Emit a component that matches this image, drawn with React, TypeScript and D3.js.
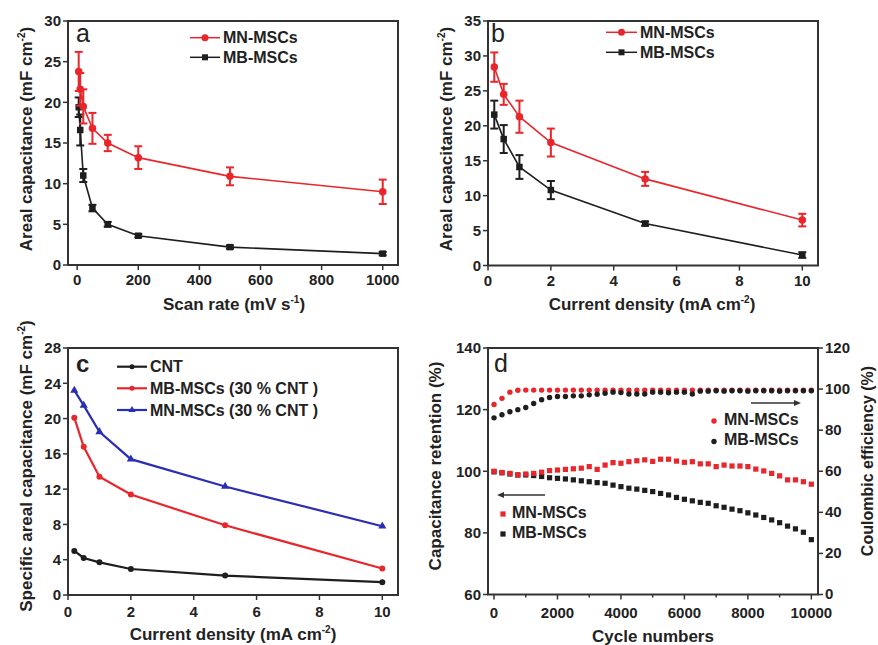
import React from 'react';
import * as d3 from 'd3';

const FONT = "'Liberation Sans', Arial, Helvetica, sans-serif";
const INK = '#222';
const AXIS = '#333';
const RED = '#e8262b';
const BLUE = '#2a2eb2';
const DARK = '#1e1e1e';

// ---- (a) areal capacitance vs scan rate ----
const scanRates = [5, 10, 20, 50, 100, 200, 500, 1000];
const mnScan = [23.8, 21.6, 19.5, 16.8, 15.0, 13.2, 10.9, 9.0];
const mnScanErr = [2.4, 2.0, 2.1, 1.9, 1.0, 1.4, 1.1, 1.5];
const mbScan = [19.4, 16.6, 11.0, 7.0, 5.0, 3.6, 2.2, 1.4];
const mbScanErr = [1.2, 1.9, 0.8, 0.4, 0.3, 0.2, 0.2, 0.2];
const scanTicksX = [0, 200, 400, 600, 800, 1000];
const scanTicksY = [0, 5, 10, 15, 20, 25, 30];

// ---- (b) areal capacitance vs current density ----
const currents = [0.2, 0.5, 1, 2, 5, 10];
const mnCur = [28.4, 24.5, 21.3, 17.6, 12.4, 6.5];
const mnCurErr = [2.1, 1.5, 2.3, 2.0, 1.0, 0.9];
const mbCur = [21.6, 18.1, 14.1, 10.8, 6.0, 1.5];
const mbCurErr = [2.0, 2.0, 1.7, 1.3, 0.3, 0.4];
const curTicksX = [0, 2, 4, 6, 8, 10];
const curTicksYb = [0, 5, 10, 15, 20, 25, 30, 35];

// ---- (c) specific areal capacitance with 30 % CNT ----
const cntOnly = [5.0, 4.2, 3.7, 2.95, 2.2, 1.45];
const mb30 = [20.1, 16.8, 13.4, 11.4, 7.9, 3.0];
const mn30 = [23.2, 21.5, 18.5, 15.4, 12.3, 7.8];
const curTicksYc = [0, 4, 8, 12, 16, 20, 24, 28];

// ---- (d) cycling stability ----
const cycles = [
  0, 250, 500, 750, 1000, 1250, 1500, 1750, 2000, 2250, 2500, 2750, 3000, 3250,
  3500, 3750, 4000, 4250, 4500, 4750, 5000, 5250, 5500, 5750, 6000, 6250, 6500,
  6750, 7000, 7250, 7500, 7750, 8000, 8250, 8500, 8750, 9000, 9250, 9500, 9750, 10000,
];
const mnRetention = [
  100, 99.6, 99.3, 98.8, 99.1, 99.3, 99.7, 100.2, 100.4, 100.6, 100.8, 101.0, 101.5, 100.6,
  102.0, 102.8, 102.6, 103.1, 103.4, 103.7, 103.2, 103.9, 103.9, 103.3, 102.9, 103.1, 102.4,
  102.4, 101.5, 102.0, 101.7, 101.7, 101.5, 100.7, 100.1, 99.3, 98.5, 97.2, 97.2, 96.6, 95.8,
];
const mbRetention = [
  99.8, 99.5, 99.1, 98.8, 98.8, 98.6, 98.3, 97.9, 97.7, 97.5, 97.2, 96.9, 96.6, 96.3,
  96.1, 95.5, 95.0, 94.5, 94.2, 93.8, 93.4, 92.8, 92.3, 91.5, 90.9, 90.4, 89.9,
  89.6, 88.8, 88.3, 87.7, 87.2, 86.5, 85.8, 85.0, 84.2, 83.3, 82.2, 81.3, 80.2, 77.8,
];
const mnCoulombic = [
  92.5, 95.5, 98.5, 99.4, 99.5, 99.5, 99.5, 99.5, 99.5, 99.5, 99.5, 99.5, 99.5, 99.5,
  99.5, 99.5, 99.5, 99.5, 99.5, 99.5, 99.5, 99.5, 99.5, 99.5, 99.5, 99.5, 99.5,
  99.5, 99.5, 99.5, 99.5, 99.5, 99.5, 99.5, 99.5, 99.5, 99.5, 99.5, 99.5, 99.5, 99.5,
];
const mbCoulombic = [
  86.0, 87.5, 89.0, 90.0, 91.0, 93.0, 94.8, 95.9, 96.4, 96.4, 96.7, 96.7, 97.2, 97.5,
  98.0, 98.5, 98.3, 97.6, 97.6, 97.6, 98.5, 98.5, 98.2, 98.5, 98.5, 97.6, 99.0,
  99.0, 99.2, 99.0, 99.2, 99.2, 99.0, 99.2, 99.2, 99.2, 99.0, 99.2, 99.2, 99.2, 99.2,
];
const cycleTicks = [0, 2000, 4000, 6000, 8000, 10000];
const cycleMinor = [1000, 3000, 5000, 7000, 9000];
const retentionTicks = [60, 80, 100, 120, 140];
const coulombicTicks = [0, 20, 40, 60, 80, 100, 120];

type Lin = d3.ScaleLinear<number, number>;

function Frame({ x, y, xTicks, yTicks, xMinor = [] as number[], labelGap = 20 }: any) {
  const [l, r] = x.range();
  const [b, t] = y.range();
  return (
    <g>
      <rect x={l} y={t} width={r - l} height={b - t} fill="none" stroke={AXIS} strokeWidth={2} />
      {xTicks.map((v: number) => (
        <g key={'x' + v}>
          <line x1={x(v)} x2={x(v)} y1={b} y2={b + 5} stroke={AXIS} strokeWidth={1.5} />
          <text x={x(v)} y={b + labelGap} textAnchor="middle" fontSize={15} fontWeight="bold" fill={INK}>
            {v}
          </text>
        </g>
      ))}
      {xMinor.map((v: number) => (
        <line key={'m' + v} x1={x(v)} x2={x(v)} y1={b} y2={b + 3} stroke={AXIS} strokeWidth={1.5} />
      ))}
      {yTicks.map((v: number) => (
        <g key={'y' + v}>
          <line x1={l - 5} x2={l} y1={y(v)} y2={y(v)} stroke={AXIS} strokeWidth={1.5} />
          <text x={l - 7} y={y(v)} dy="0.36em" textAnchor="end" fontSize={15} fontWeight="bold" fill={INK}>
            {v}
          </text>
        </g>
      ))}
    </g>
  );
}

function ErrorBars({ xs, vs, es, x, y, color }: any) {
  return (
    <g stroke={color} strokeWidth={2}>
      {xs.map((xv: number, i: number) => {
        const px = x(xv);
        const top = y(vs[i] + es[i]);
        const bot = y(vs[i] - es[i]);
        return (
          <g key={i}>
            <line x1={px} x2={px} y1={top} y2={bot} />
            <line x1={px - 4} x2={px + 4} y1={top} y2={top} />
            <line x1={px - 4} x2={px + 4} y1={bot} y2={bot} />
          </g>
        );
      })}
    </g>
  );
}

function Series({ xs, vs, x, y, color, marker, size, width }: any) {
  const line = d3.line<number>().x((_, i) => x(xs[i])).y((v) => y(v));
  return (
    <g>
      <path d={line(vs) || ''} fill="none" stroke={color} strokeWidth={width} />
      {xs.map((xv: number, i: number) => (
        <Marker key={i} cx={x(xv)} cy={y(vs[i])} kind={marker} size={size} color={color} />
      ))}
    </g>
  );
}

function Marker({ cx, cy, kind, size, color }: any) {
  if (kind === 'square')
    return <rect x={cx - size / 2} y={cy - size / 2} width={size} height={size} fill={color} />;
  if (kind === 'triangle') {
    const s = d3.symbol(d3.symbolTriangle, size * size * 0.45)();
    return <path d={s || ''} transform={`translate(${cx},${cy})`} fill={color} />;
  }
  return <circle cx={cx} cy={cy} r={size / 2} fill={color} />;
}

function LegendLine({ x1, x2, y, color, marker, size, label, width = 1.5 }: any) {
  return (
    <g>
      <line x1={x1} x2={x2} y1={y} y2={y} stroke={color} strokeWidth={width} />
      <Marker cx={(x1 + x2) / 2} cy={y} kind={marker} size={size} color={color} />
      <text x={x2 + 3} y={y} dy="0.36em" fontSize={16} fontWeight="bold" fill={INK}>
        {label}
      </text>
    </g>
  );
}

function Sup({ children }: any) {
  return (
    <>
      <tspan dy={-7} fontSize={10}>{children}</tspan>
      <tspan dy={7}>)</tspan>
    </>
  );
}

function YTitle({ x, y, children, size = 17 }: any) {
  return (
    <text transform={`translate(${x},${y}) rotate(-90)`} textAnchor="middle" fontSize={size} fontWeight="bold" fill={INK}>
      {children}
    </text>
  );
}

function PanelA() {
  const x: Lin = d3.scaleLinear().domain([-30, 1050]).range([68, 398]);
  const y: Lin = d3.scaleLinear().domain([0, 30]).range([265, 21]);
  return (
    <g>
      <Frame x={x} y={y} xTicks={scanTicksX} yTicks={scanTicksY} />
      <Series xs={scanRates} vs={mbScan} x={x} y={y} color={DARK} marker="square" size={6.5} width={1.6} />
      <ErrorBars xs={scanRates} vs={mbScan} es={mbScanErr} x={x} y={y} color={DARK} />
      <Series xs={scanRates} vs={mnScan} x={x} y={y} color={RED} marker="circle" size={7.5} width={1.6} />
      <ErrorBars xs={scanRates} vs={mnScan} es={mnScanErr} x={x} y={y} color={RED} />
      <text x={76} y={42} fontSize={25} fill={INK}>a</text>
      <LegendLine x1={190} x2={220} y={37.7} color={RED} marker="circle" size={7} label="MN-MSCs" />
      <LegendLine x1={190} x2={220} y={57.3} color={DARK} marker="square" size={6} label="MB-MSCs" />
      <text x={234} y={310} textAnchor="middle" fontSize={17} fontWeight="bold" fill={INK}>
        Scan rate (mV s<tspan dy={-7} fontSize={10}>-1</tspan><tspan dy={7}>)</tspan>
      </text>
      <YTitle x={32} y={139}>Areal capacitance (mF cm<Sup>-2</Sup></YTitle>
    </g>
  );
}

function PanelB() {
  const x: Lin = d3.scaleLinear().domain([0, 10.5]).range([488, 818]);
  const y: Lin = d3.scaleLinear().domain([0, 35]).range([265.5, 21]);
  return (
    <g>
      <Frame x={x} y={y} xTicks={curTicksX} yTicks={curTicksYb} />
      <Series xs={currents} vs={mbCur} x={x} y={y} color={DARK} marker="square" size={6.5} width={1.6} />
      <ErrorBars xs={currents} vs={mbCur} es={mbCurErr} x={x} y={y} color={DARK} />
      <Series xs={currents} vs={mnCur} x={x} y={y} color={RED} marker="circle" size={7.5} width={1.6} />
      <ErrorBars xs={currents} vs={mnCur} es={mnCurErr} x={x} y={y} color={RED} />
      <text x={491} y={42} fontSize={25} fill={INK}>b</text>
      <LegendLine x1={606} x2={637} y={32.3} color={RED} marker="circle" size={7} label="MN-MSCs" />
      <LegendLine x1={606} x2={637} y={52.3} color={DARK} marker="square" size={6} label="MB-MSCs" />
      <text x={652} y={310} textAnchor="middle" fontSize={17} fontWeight="bold" fill={INK}>
        Current density (mA cm<tspan dy={-7} fontSize={10}>-2</tspan><tspan dy={7}>)</tspan>
      </text>
      <YTitle x={452} y={139}>Areal capacitance (mF cm<Sup>-2</Sup></YTitle>
    </g>
  );
}

function PanelC() {
  const x: Lin = d3.scaleLinear().domain([0, 10.5]).range([68, 398]);
  const y: Lin = d3.scaleLinear().domain([0, 28]).range([595, 348]);
  return (
    <g>
      <Frame x={x} y={y} xTicks={curTicksX} yTicks={curTicksYc} labelGap={22} />
      <Series xs={currents} vs={cntOnly} x={x} y={y} color={DARK} marker="circle" size={6} width={2.2} />
      <Series xs={currents} vs={mb30} x={x} y={y} color={RED} marker="circle" size={6} width={2.2} />
      <Series xs={currents} vs={mn30} x={x} y={y} color={BLUE} marker="triangle" size={8} width={2.2} />
      <text x={76} y={372} fontSize={24} fontWeight="bold" fill={INK}>c</text>
      <LegendLine x1={117} x2={147} y={366.7} color={DARK} marker="circle" size={5} label="CNT" width={2.2} />
      <LegendLine x1={117} x2={147} y={388.3} color={RED} marker="circle" size={5} label="MB-MSCs (30 % CNT )" width={2.2} />
      <LegendLine x1={117} x2={147} y={410} color={BLUE} marker="triangle" size={7} label="MN-MSCs (30 % CNT )" width={2.2} />
      <text x={233} y={640} textAnchor="middle" fontSize={17} fontWeight="bold" fill={INK}>
        Current density (mA cm<tspan dy={-7} fontSize={10}>-2</tspan><tspan dy={7}>)</tspan>
      </text>
      <YTitle x={32} y={466}>Specific areal capacitance (mF cm<Sup>-2</Sup></YTitle>
    </g>
  );
}

function Arrow({ x1, x2, y }: any) {
  const dir = Math.sign(x2 - x1);
  return (
    <g>
      <line x1={x1} x2={x2 - dir * 4} y1={y} y2={y} stroke={AXIS} strokeWidth={1.5} />
      <path d={`M${x2},${y} L${x2 - dir * 7},${y - 3} L${x2 - dir * 7},${y + 3} Z`} fill={AXIS} />
    </g>
  );
}

function PanelD() {
  const x: Lin = d3.scaleLinear().domain([-190, 10210]).range([488, 818]);
  const yL: Lin = d3.scaleLinear().domain([60, 140]).range([594.5, 348]);
  const yR: Lin = d3.scaleLinear().domain([0, 120]).range([594.5, 348]);
  return (
    <g>
      <Frame x={x} y={yL} xTicks={cycleTicks} yTicks={retentionTicks} xMinor={cycleMinor} labelGap={23} />
      {coulombicTicks.map((v) => (
        <g key={v}>
          <line x1={818} x2={823} y1={yR(v)} y2={yR(v)} stroke={AXIS} strokeWidth={1.5} />
          <text x={825} y={yR(v)} dy="0.33em" fontSize={15} fontWeight="bold" fill={INK}>{v}</text>
        </g>
      ))}
      {cycles.map((c, i) => (
        <g key={c}>
          <rect x={x(c) - 2.6} y={yL(mbRetention[i]) - 2.6} width={5.2} height={5.2} fill={DARK} />
          <rect x={x(c) - 2.6} y={yL(mnRetention[i]) - 2.6} width={5.2} height={5.2} fill={RED} />
          <circle cx={x(c)} cy={yR(mnCoulombic[i])} r={2.7} fill={RED} />
          <circle cx={x(c)} cy={yR(mbCoulombic[i])} r={2.7} fill={DARK} />
        </g>
      ))}
      <text x={494} y={372} fontSize={25} fill={INK}>d</text>
      <Arrow x1={751} x2={801} y={403} />
      <Arrow x1={545} x2={497} y={495} />
      <circle cx={714} cy={421} r={2.7} fill={RED} />
      <text x={724} y={425} fontSize={16} fontWeight="bold" fill={INK}>MN-MSCs</text>
      <circle cx={714} cy={441.5} r={2.7} fill={DARK} />
      <text x={724} y={445} fontSize={16} fontWeight="bold" fill={INK}>MB-MSCs</text>
      <rect x={500.4} y={511.4} width={5.2} height={5.2} fill={RED} />
      <text x={512} y={518} fontSize={16} fontWeight="bold" fill={INK}>MN-MSCs</text>
      <rect x={500.4} y={531.4} width={5.2} height={5.2} fill={DARK} />
      <text x={512} y={538} fontSize={16} fontWeight="bold" fill={INK}>MB-MSCs</text>
      <text x={653} y={642} textAnchor="middle" fontSize={17} fontWeight="bold" fill={INK}>Cycle numbers</text>
      <YTitle x={441} y={466}>Capacitance retention (%)</YTitle>
      <YTitle x={873} y={461} size={16}>Coulombic efficiency (%)</YTitle>
    </g>
  );
}

export default function App() {
  return (
    <svg
      width={878}
      height={645}
      viewBox="0 0 878 645"
      style={{ position: 'absolute', left: 0, top: 0, background: '#fff' }}
      fontFamily={FONT}
    >
      <rect width={878} height={645} fill="#fff" />
      <PanelA />
      <PanelB />
      <PanelC />
      <PanelD />
    </svg>
  );
}
